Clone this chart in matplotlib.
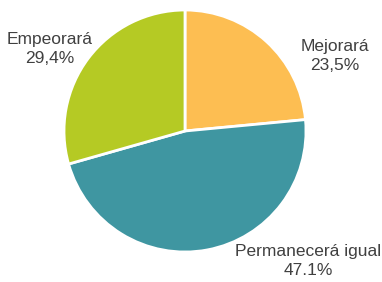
import matplotlib
matplotlib.use("Agg")
import matplotlib.pyplot as plt
from matplotlib import font_manager

names = {f.name for f in font_manager.fontManager.ttflist}
fam = "Liberation Sans Narrow" if "Liberation Sans Narrow" in names else "Liberation Sans"

categories = ["Mejorará", "Permanecerá igual", "Empeorará"]
values = [23.5, 47.1, 29.4]
pct_labels = ["23,5%", "47.1%", "29,4%"]
colors = ["#FDBE52", "#3F96A1", "#B5CA24"]

fig = plt.figure(figsize=(3.82, 2.82), dpi=100)
ax = fig.add_axes([0, 0, 1, 1])

cx, cy, r = 185, 282 - 131, 121
ax.pie(values, colors=colors, startangle=90, counterclock=False,
       center=(cx, cy), radius=r, frame=True,
       wedgeprops=dict(edgecolor="white", linewidth=2))
ax.set_xlim(0, 382)
ax.set_ylim(0, 282)
ax.set_aspect("equal")
ax.axis("off")

label_pos = [(335, 282 - 56), (308, 282 - 261), (50, 282 - 49)]
for cat, p, (x, y) in zip(categories, pct_labels, label_pos):
    ax.text(x, y, f"{cat}\n{p}", ha="center", va="center", fontsize=12.5,
            family=fam, color="#404040", linespacing=1.3)

fig.savefig("out.png", dpi=100)
